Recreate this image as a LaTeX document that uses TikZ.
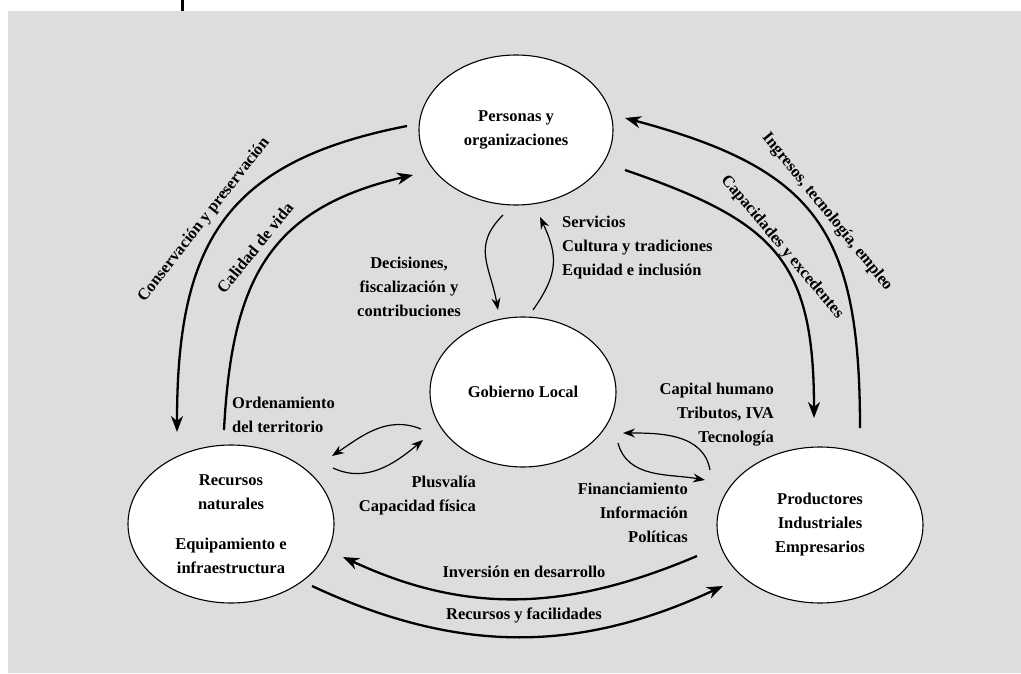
\documentclass[tikz,border=0pt]{standalone}
\usepackage{fontspec}
\setmainfont{Liberation Serif}
\usepackage{xcolor}
\usetikzlibrary{calc,shapes.geometric,arrows.meta}
\definecolor{fondo}{RGB}{220,221,223}

\begin{document}
\begin{tikzpicture}[x=1pt,y=1pt,font=\fontsize{16.5}{24}\selectfont\bfseries,
	elip/.style={ellipse,draw,fill=white,line width=1.1pt,align=center,inner sep=0pt},
	lbl/.style={inner sep=0pt},
	grande/.style={-{Stealth[length=16pt,width=12pt,inset=5pt]},line width=2.3pt},
	chico/.style={-{Stealth[length=12pt,width=9pt,inset=4pt]},line width=1.2pt}]
	\useasboundingbox (0,0) rectangle (1021,-674);
	\fill[fondo] (8,-11) rectangle (1021,-673);
	\fill[black] (181,0) rectangle (184,-11);
	% los cuatro actores
	\node(pers)at(516,-130)[elip,minimum width=194pt,minimum height=150pt]{Personas y\\organizaciones};
	\node(gob)at(523,-392)[elip,minimum width=186pt,minimum height=150pt]{Gobierno Local};
	\node(rec)at(231,-524)[elip,minimum width=206pt,minimum height=158pt]{Recursos\\naturales\\[16pt]Equipamiento e\\infraestructura};
	\node(prod)at(820,-525)[elip,minimum width=206pt,minimum height=156pt]{Productores\\Industriales\\Empresarios};
	% flujos grandes
	\draw[grande]($(pers)+(-109,4)$) to[out=191,in=90,looseness=1.25] ($(rec)+(-54,92)$);
	\draw[grande]($(rec)+(-7,94)$) to[out=87,in=193,looseness=1.2] ($(pers)+(-103,-45)$);
	\draw[grande]($(prod)+(40,97)$) to[out=90,in=-15,looseness=1.3] ($(pers)+(109,12)$);
	\draw[grande]($(pers)+(109,-40)$) to[out=-19,in=90,looseness=1.3] ($(prod)+(-6,107)$);
	\draw[grande]($(prod)+(-123,-31)$) to[out=203,in=-25] ($(rec)+(112,-33)$);
	\draw[grande]($(rec)+(81,-62)$) to[out=-25,in=205] ($(prod)+(-97,-61)$);
	% flujos con el gobierno
	\draw[chico]($(pers)+(-13,-85)$) to[out=225,in=100,looseness=1.2] ($(gob)+(-25,82)$);
	\draw[chico]($(gob)+(10,82)$) to[out=55,in=-65,looseness=1.2] ($(pers)+(24,-87)$);
	\draw[chico]($(gob)+(-102,-37)$) to[out=158,in=34] ($(rec)+(101,68)$);
	\draw[chico]($(rec)+(102,56)$) to[out=-25,in=220] ($(gob)+(-100,-48)$);
	\draw[chico]($(prod)+(-110,55)$) to[out=100,in=0] ($(gob)+(100,-41)$);
	\draw[chico]($(gob)+(95,-51)$) to[out=-75,in=170] ($(prod)+(-115,45)$);
	% etiquetas
	\node(conserv)at(204,-220)[lbl,rotate=52]{Conservación y preservación};
	\node(calidad)at(255,-248)[lbl,rotate=51]{Calidad de vida};
	\node(ingresos)at(827,-212)[lbl,rotate=-51]{Ingresos, tecnología, empleo};
	\node(capac)at(782,-247)[lbl,rotate=-50]{Capacidades y excedentes};
	\node(decis)at(409,-287)[lbl,align=center]{Decisiones,\\fiscalización y\\contribuciones};
	\node(servic)at(562,-248)[lbl,anchor=west,align=left]{Servicios\\Cultura y tradiciones\\Equidad e inclusión};
	\node(orden)at(232,-415)[lbl,anchor=west,align=left]{Ordenamiento\\del territorio};
	\node(plusv)at(476,-496)[lbl,anchor=east,align=right]{Plusvalía\\Capacidad física};
	\node(capit)at(774,-415)[lbl,anchor=east,align=right]{Capital humano\\Tributos, IVA\\Tecnología};
	\node(financ)at(688,-513)[lbl,anchor=east,align=right]{Financiamiento\\Información\\Políticas};
	\node(invers)at(524,-572)[lbl]{Inversión en desarrollo};
	\node(recfac)at(524,-615)[lbl]{Recursos y facilidades};
\end{tikzpicture}
\end{document}
